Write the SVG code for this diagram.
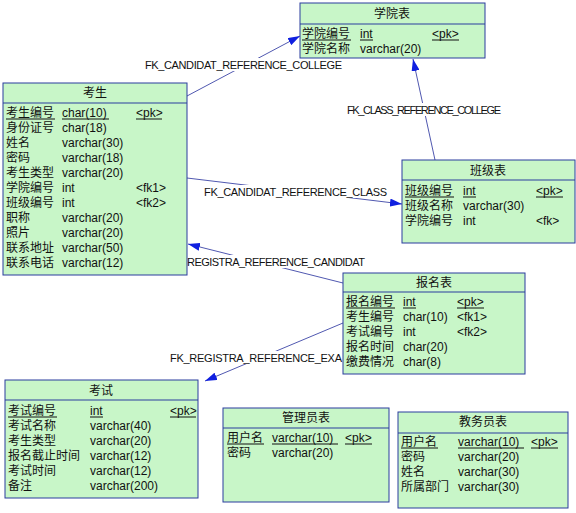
<svg xmlns="http://www.w3.org/2000/svg" width="576" height="513" viewBox="0 0 576 513">
<defs>
<style>
.box{fill:#c8f6c8;stroke:#2b3d9e;stroke-width:1}
.div{stroke:#2b3d9e;stroke-width:1}
text{font-family:"Liberation Sans","Noto Sans CJK SC",sans-serif;font-size:12px;fill:#111}
.h{text-anchor:middle}
.lbl{font-size:11px;fill:#111}
.ul{stroke:#111;stroke-width:1}
.con{stroke:#5058b0;stroke-width:1;fill:none}
</style>
<marker id="arr" viewBox="0 0 12 8" refX="12" refY="4" markerWidth="12" markerHeight="8" markerUnits="userSpaceOnUse" orient="auto">
<path d="M0,0 L12,4 L0,8 Z" fill="#1020e0"/>
</marker>
</defs>
<rect width="576" height="513" fill="#ffffff"/>

<g id="connectors">
<line class="con" x1="187" y1="96" x2="300" y2="36" marker-end="url(#arr)"/>
<line class="con" x1="435" y1="160" x2="413" y2="59" marker-end="url(#arr)"/>
<line class="con" x1="187" y1="178" x2="402" y2="204" marker-end="url(#arr)"/>
<line class="con" x1="343" y1="283" x2="188" y2="244" marker-end="url(#arr)"/>
<line class="con" x1="343" y1="323" x2="205" y2="381" marker-end="url(#arr)"/>
<rect x="144" y="58" width="200" height="13" fill="#ffffff"/>
<text class="lbl" x="145" y="69" textLength="197">FK_CANDIDAT_REFERENCE_COLLEGE</text>
<rect x="346" y="103" width="156" height="13" fill="#ffffff"/>
<text class="lbl" x="347" y="114" textLength="154">FK_CLASS_REFERENCE_COLLEGE</text>
<rect x="203" y="185" width="186" height="13" fill="#ffffff"/>
<text class="lbl" x="204" y="196" textLength="183">FK_CANDIDAT_REFERENCE_CLASS</text>
<rect x="186" y="255" width="180" height="13" fill="#ffffff"/>
<text class="lbl" x="187" y="266" textLength="178">REGISTRA_REFERENCE_CANDIDAT</text>
<rect x="169" y="351" width="173" height="13" fill="#ffffff"/>
<text class="lbl" x="170" y="362" textLength="172">FK_REGISTRA_REFERENCE_EXA</text>
</g>

<g id="college">
<rect class="box" x="300" y="3" width="185" height="55"/>
<line class="div" x1="300" y1="24" x2="485" y2="24"/>
<text class="h" x="392" y="18">学院表</text>
<text x="302" y="38">学院编号</text><text x="360" y="38">int</text><text x="432" y="38">&lt;pk&gt;</text>
<line class="ul" x1="302" y1="40" x2="351" y2="40"/><line class="ul" x1="360" y1="40" x2="373" y2="40"/><line class="ul" x1="432" y1="40" x2="459" y2="40"/>
<text x="302" y="53">学院名称</text><text x="360" y="53">varchar(20)</text>
</g>

<g id="candidate">
<rect class="box" x="3" y="83" width="184" height="192"/>
<line class="div" x1="3" y1="103" x2="187" y2="103"/>
<text class="h" x="95" y="97">考生</text>
<text x="6" y="117">考生编号</text><text x="62" y="117">char(10)</text><text x="136" y="117">&lt;pk&gt;</text>
<line class="ul" x1="6" y1="119" x2="55" y2="119"/><line class="ul" x1="62" y1="119" x2="109" y2="119"/><line class="ul" x1="136" y1="119" x2="162" y2="119"/>
<text x="6" y="132">身份证号</text><text x="62" y="132">char(18)</text>
<text x="6" y="147">姓名</text><text x="62" y="147">varchar(30)</text>
<text x="6" y="162">密码</text><text x="62" y="162">varchar(18)</text>
<text x="6" y="177">考生类型</text><text x="62" y="177">varchar(20)</text>
<text x="6" y="192">学院编号</text><text x="62" y="192">int</text><text x="136" y="192">&lt;fk1&gt;</text>
<text x="6" y="207">班级编号</text><text x="62" y="207">int</text><text x="136" y="207">&lt;fk2&gt;</text>
<text x="6" y="222">职称</text><text x="62" y="222">varchar(20)</text>
<text x="6" y="237">照片</text><text x="62" y="237">varchar(20)</text>
<text x="6" y="252">联系地址</text><text x="62" y="252">varchar(50)</text>
<text x="6" y="267">联系电话</text><text x="62" y="267">varchar(12)</text>
</g>

<g id="class">
<rect class="box" x="402" y="160" width="173" height="83"/>
<line class="div" x1="402" y1="180" x2="575" y2="180"/>
<text class="h" x="488" y="175">班级表</text>
<text x="405" y="195">班级编号</text><text x="463" y="195">int</text><text x="536" y="195">&lt;pk&gt;</text>
<line class="ul" x1="405" y1="197" x2="454" y2="197"/><line class="ul" x1="463" y1="197" x2="476" y2="197"/><line class="ul" x1="536" y1="197" x2="563" y2="197"/>
<text x="405" y="210">班级名称</text><text x="463" y="210">varchar(30)</text>
<text x="405" y="225">学院编号</text><text x="463" y="225">int</text><text x="536" y="225">&lt;fk&gt;</text>
</g>

<g id="registration">
<rect class="box" x="343" y="273" width="182" height="101"/>
<line class="div" x1="343" y1="292" x2="525" y2="292"/>
<text class="h" x="434" y="287">报名表</text>
<text x="346" y="306">报名编号</text><text x="403" y="306">int</text><text x="457" y="306">&lt;pk&gt;</text>
<line class="ul" x1="346" y1="308" x2="395" y2="308"/><line class="ul" x1="403" y1="308" x2="416" y2="308"/><line class="ul" x1="457" y1="308" x2="484" y2="308"/>
<text x="346" y="321">考生编号</text><text x="403" y="321">char(10)</text><text x="457" y="321">&lt;fk1&gt;</text>
<text x="346" y="336">考试编号</text><text x="403" y="336">int</text><text x="457" y="336">&lt;fk2&gt;</text>
<text x="346" y="351">报名时间</text><text x="403" y="351">char(20)</text>
<text x="346" y="366">缴费情况</text><text x="403" y="366">char(8)</text>
</g>

<g id="exam">
<rect class="box" x="5" y="380" width="193" height="118"/>
<line class="div" x1="5" y1="400" x2="198" y2="400"/>
<text class="h" x="101" y="395">考试</text>
<text x="8" y="415">考试编号</text><text x="90" y="415">int</text><text x="170" y="415">&lt;pk&gt;</text>
<line class="ul" x1="8" y1="417" x2="57" y2="417"/><line class="ul" x1="90" y1="417" x2="103" y2="417"/><line class="ul" x1="170" y1="417" x2="196" y2="417"/>
<text x="8" y="430">考试名称</text><text x="90" y="430">varchar(40)</text>
<text x="8" y="445">考生类型</text><text x="90" y="445">varchar(20)</text>
<text x="8" y="460">报名截止时间</text><text x="90" y="460">varchar(12)</text>
<text x="8" y="475">考试时间</text><text x="90" y="475">varchar(12)</text>
<text x="8" y="490">备注</text><text x="90" y="490">varchar(200)</text>
</g>

<g id="admin">
<rect class="box" x="223" y="408" width="166" height="94"/>
<line class="div" x1="223" y1="428" x2="389" y2="428"/>
<text class="h" x="306" y="422">管理员表</text>
<text x="227" y="442">用户名</text><text x="272" y="442">varchar(10)</text><text x="345" y="442">&lt;pk&gt;</text>
<line class="ul" x1="227" y1="444" x2="264" y2="444"/><line class="ul" x1="272" y1="444" x2="338" y2="444"/><line class="ul" x1="345" y1="444" x2="372" y2="444"/>
<text x="227" y="457">密码</text><text x="272" y="457">varchar(20)</text>
</g>

<g id="registrar">
<rect class="box" x="398" y="412" width="170" height="96"/>
<line class="div" x1="398" y1="433" x2="568" y2="433"/>
<text class="h" x="483" y="426">教务员表</text>
<text x="401" y="446">用户名</text><text x="458" y="446">varchar(10)</text><text x="531" y="446">&lt;pk&gt;</text>
<line class="ul" x1="401" y1="448" x2="438" y2="448"/><line class="ul" x1="458" y1="448" x2="524" y2="448"/><line class="ul" x1="531" y1="448" x2="558" y2="448"/>
<text x="401" y="461">密码</text><text x="458" y="461">varchar(20)</text>
<text x="401" y="476">姓名</text><text x="458" y="476">varchar(30)</text>
<text x="401" y="491">所属部门</text><text x="458" y="491">varchar(30)</text>
</g>
</svg>
